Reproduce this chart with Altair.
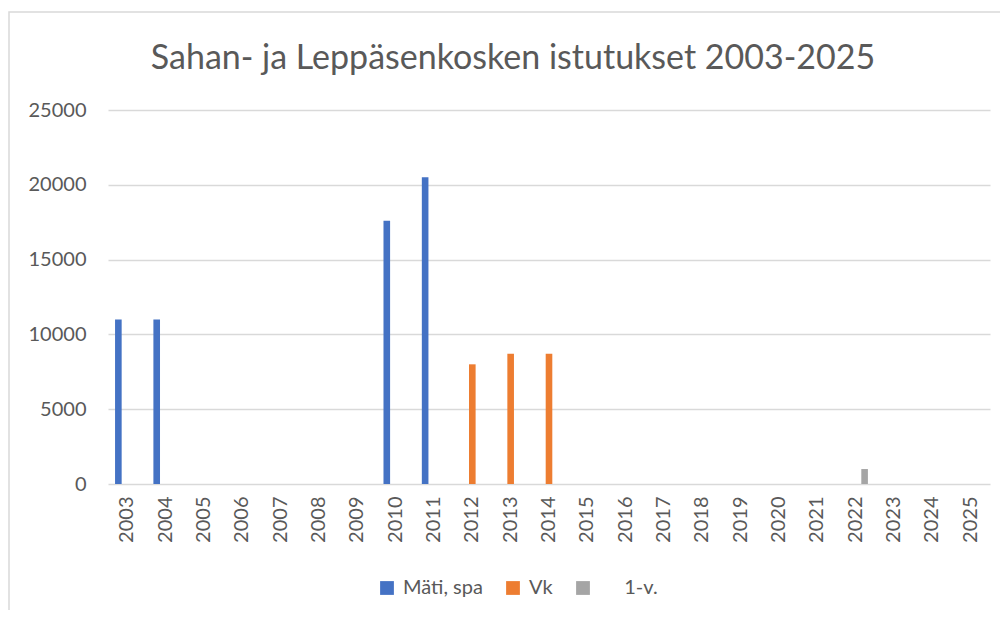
import altair as alt
import pandas as pd

years = [str(y) for y in range(2003, 2026)]
series_names = ["Mäti, spa", "Vk", "\u200b\u2003\u00a0\u00a01-v."]
mati = [11000, 11000, 0, 0, 0, 0, 0, 17600, 20500, 0, 0, 0, 0, 0, 0, 0, 0, 0, 0, 0, 0, 0, 0]
vk = [0, 0, 0, 0, 0, 0, 0, 0, 0, 8000, 8700, 8700, 0, 0, 0, 0, 0, 0, 0, 0, 0, 0, 0]
yksiv = [0, 0, 0, 0, 0, 0, 0, 0, 0, 0, 0, 0, 0, 0, 0, 0, 0, 0, 0, 1000, 0, 0, 0]
colors = ["#4472C4", "#ED7D31", "#A5A5A5"]

rows = []
for name, vals in zip(series_names, [mati, vk, yksiv]):
    for yr, v in zip(years, vals):
        rows.append({"Vuosi": yr, "Sarja": name, "Määrä": v})
df = pd.DataFrame(rows)

FONT = "Lato"
GRAY = "#595959"

bars = alt.Chart(df).mark_bar().encode(
    x=alt.X("Vuosi:N", sort=years,
            scale=alt.Scale(paddingInner=0.31, paddingOuter=0.155),
            axis=alt.Axis(title=None, labelAngle=270, labelAlign="right",
                          labelBaseline="middle", labelPadding=12, ticks=False,
                          domain=False, labelFontSize=20, labelColor=GRAY,
                          labelFont=FONT)),
    xOffset=alt.XOffset("Sarja:N", sort=series_names,
                        scale=alt.Scale(paddingInner=0.25, paddingOuter=0.125)),
    y=alt.Y("Määrä:Q", scale=alt.Scale(domain=[0, 25000], nice=False),
            axis=alt.Axis(title=None, values=[0, 5000, 10000, 15000, 20000, 25000],
                          format="d", ticks=False, domain=False, labelPadding=22,
                          labelFontSize=20, labelColor=GRAY, labelFont=FONT,
                          gridColor="#D9D9D9", gridWidth=1.5)),
    color=alt.Color("Sarja:N", sort=series_names,
                    scale=alt.Scale(domain=series_names, range=colors),
                    legend=alt.Legend(title=None, orient="none", direction="horizontal",
                                      legendX=269, legendY=468,
                                      symbolType="square", symbolSize=190,
                                      symbolStrokeWidth=0, symbolOpacity=1,
                                      labelFontSize=20, labelColor=GRAY, labelFont=FONT,
                                      labelOffset=6, columnPadding=20)),
)

frame = alt.Chart(pd.DataFrame({"k": [0]})).mark_rect(
    filled=False, stroke="#D9D9D9", strokeWidth=1.5).encode(
    x=alt.value(-99), x2=alt.value(1000), y=alt.value(-98), y2=alt.value(700))

chart = alt.layer(frame, bars).properties(
    width=882, height=374,
    autosize=alt.AutoSizeParams(type="none"),
    padding={"left": 100, "top": 102, "right": 10, "bottom": 126},
    title=alt.TitleParams("Sahan- ja Leppäsenkosken istutukset 2003-2025",
                          fontSize=34, font=FONT, color=GRAY, fontWeight="normal",
                          anchor="middle", frame="group", baseline="alphabetic",
                          offset=-92, dx=-36),
).configure_view(stroke=None)

chart.save("out.html", embed_options={"renderer": "svg", "actions": False})
